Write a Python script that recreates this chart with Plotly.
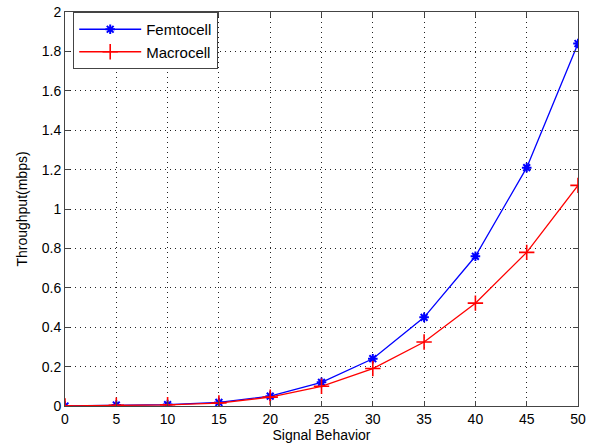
import plotly.graph_objects as go

signal = [0, 5, 10, 15, 20, 25, 30, 35, 40, 45, 50]
femtocell = [0.0, 0.005, 0.007, 0.018, 0.05, 0.12, 0.24, 0.45, 0.76, 1.21, 1.84]
macrocell = [0.0, 0.004, 0.006, 0.015, 0.045, 0.10, 0.19, 0.325, 0.522, 0.78, 1.12]
x_ticks = [0, 5, 10, 15, 20, 25, 30, 35, 40, 45, 50]
y_ticks = [0, 0.2, 0.4, 0.6, 0.8, 1, 1.2, 1.4, 1.6, 1.8, 2]
y_labels = ["0", "0.2", "0.4", "0.6", "0.8", "1", "1.2", "1.4", "1.6", "1.8", "2"]

FONT = "Liberation Sans, Arial"

fig = go.Figure()
fig.add_trace(go.Scatter(x=signal, y=femtocell, mode="lines+markers", name="Femtocell",
                         line=dict(color="#0000ff", width=1.3),
                         marker=dict(symbol="asterisk-open", size=8, color="#0000ff",
                                     line=dict(color="#0000ff", width=2))))
fig.add_trace(go.Scatter(x=signal, y=macrocell, mode="lines+markers", name="Macrocell",
                         line=dict(color="#ff0000", width=1.3),
                         marker=dict(symbol="cross-thin-open", size=11, color="#ff0000",
                                     line=dict(color="#ff0000", width=1.6))))

axis_common = dict(showline=True, linecolor="#444444", linewidth=1, mirror="ticks",
                   ticks="inside", ticklen=5, tickcolor="#444444",
                   showgrid=True, gridcolor="#222222", griddash="1px,4px", gridwidth=1,
                   zeroline=False, automargin=False,
                   tickfont=dict(family=FONT, size=14, color="#000"))

fig.update_xaxes(range=[0, 50], tickvals=x_ticks,
                 title=dict(text="Signal Behavior", standoff=2,
                            font=dict(family=FONT, size=14, color="#000")),
                 **axis_common)
fig.update_yaxes(range=[0, 2], tickvals=y_ticks, ticktext=y_labels,
                 title=dict(text="Throughput(mbps)", standoff=10,
                            font=dict(family=FONT, size=14, color="#000")),
                 **axis_common)

fig.update_layout(width=594, height=448,
                  margin=dict(l=65, r=16, t=12, b=42),
                  paper_bgcolor="white", plot_bgcolor="white",
                  font=dict(family=FONT, size=14, color="#000"),
                  legend=dict(x=0.016, y=1.0, xanchor="left", yanchor="top",
                              bgcolor="white", bordercolor="#444444", borderwidth=1,
                              font=dict(family=FONT, size=15), tracegroupgap=0,
                              itemwidth=62))

fig.write_html("out.html", config={"displayModeBar": False},
               post_script="document.body.style.margin='0';document.body.style.padding='0';")
